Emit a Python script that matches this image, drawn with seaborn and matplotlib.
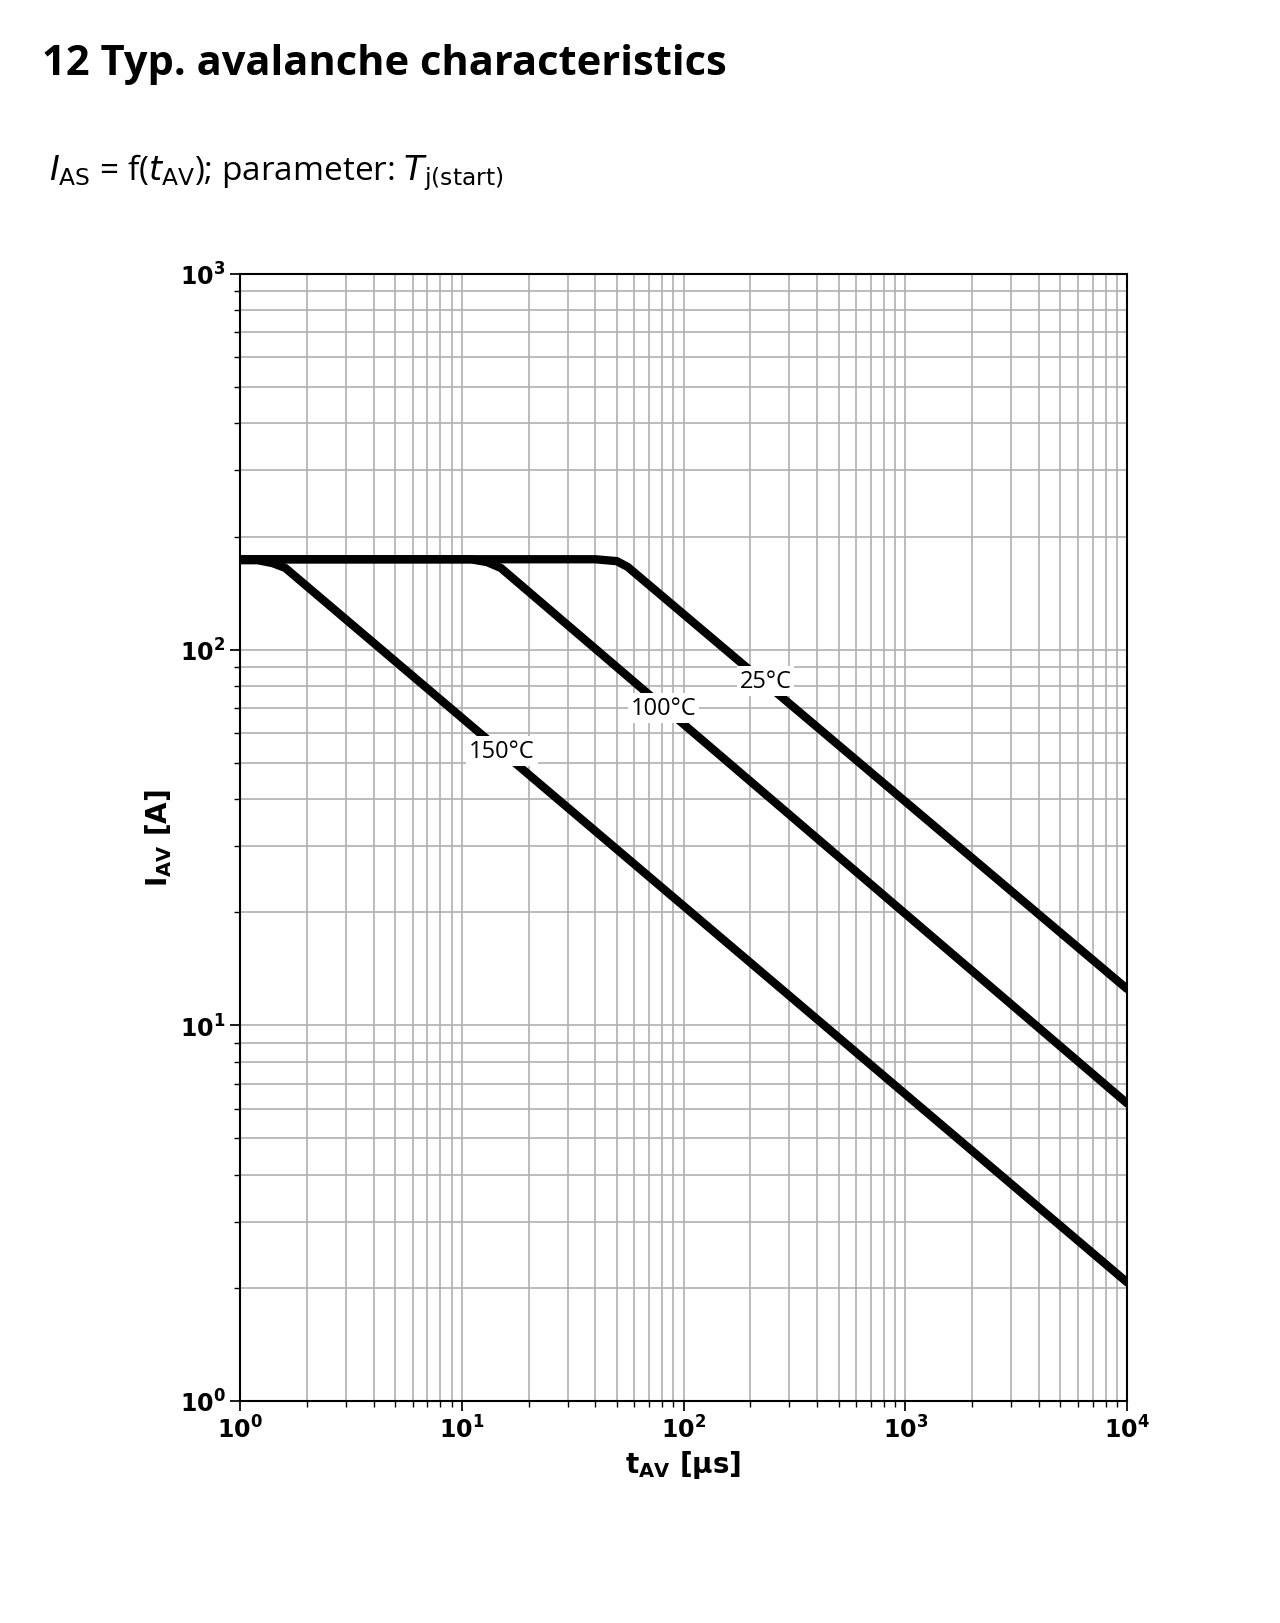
import matplotlib
matplotlib.use("Agg")
import matplotlib.pyplot as plt
import seaborn as sns
import pandas as pd

sns.set_theme(style="white")
plt.rcParams['font.family'] = ['DejaVu Sans']
plt.rcParams['text.color'] = 'black'
plt.rcParams['axes.labelcolor'] = 'black'
plt.rcParams['xtick.color'] = 'black'
plt.rcParams['ytick.color'] = 'black'

t_25 = [1, 40, 50, 56, 10000]
i_25 = [174, 174, 172, 166, 12.5]
t_100 = [1, 11, 13, 15, 10000]
i_100 = [174, 174, 171, 165, 6.2]
t_150 = [1, 1.2, 1.4, 1.6, 10000]
i_150 = [173, 173, 170, 165, 2.07]
labels = ["25°C", "100°C", "150°C"]
label_t = [234, 81, 15.2]
label_i = [82.6, 70, 53.8]

rows = []
for name, ts, iss in zip(labels, [t_25, t_100, t_150], [i_25, i_100, i_150]):
    for t, i in zip(ts, iss):
        rows.append({"t": t, "i": i, "T": name})
df = pd.DataFrame(rows)

fig = plt.figure(figsize=(12.8, 16.24), dpi=100)
ax = fig.add_axes([0.1875, 0.1367, 0.6930, 0.6940])
sns.lineplot(data=df, x="t", y="i", units="T", estimator=None, color="black",
             lw=6, ax=ax, sort=False, legend=False)
ax.set_xscale("log"); ax.set_yscale("log")
ax.set_xlim(1, 1e4); ax.set_ylim(1, 1e3)
ax.grid(True, which="both", color="#b0b0b0", lw=1.2)
for s in ax.spines.values():
    s.set_color("black"); s.set_linewidth(1.5)
ax.tick_params(which="both", direction="out", left=True, bottom=True, length=4)
ax.tick_params(which="major", length=7, labelsize=17)
for lab in ax.get_xticklabels() + ax.get_yticklabels():
    lab.set_fontweight("bold")
ax.set_xlabel(r"$\mathbf{t_{AV}}$ [µs]", fontsize=20, fontweight="bold")
ax.set_ylabel(r"$\mathbf{I_{AV}}$ [A]", fontsize=20, fontweight="bold")
for name, x, y in zip(labels, label_t, label_i):
    ax.text(x, y, name, ha="center", va="center", fontsize=17, family="Open Sans",
            bbox=dict(facecolor="white", edgecolor="none", pad=2))

fig.text(0.033, 0.96, "12 Typ. avalanche characteristics", fontsize=30,
         fontweight="bold", family="Open Sans", va="center")
fig.text(0.038, 0.894, r"$I_{\rm AS}$ = f($t_{\rm AV}$); parameter: $T_{\rm j(start)}$",
         fontsize=24, family="Open Sans", va="center")
fig.savefig("out.png", dpi=100)
